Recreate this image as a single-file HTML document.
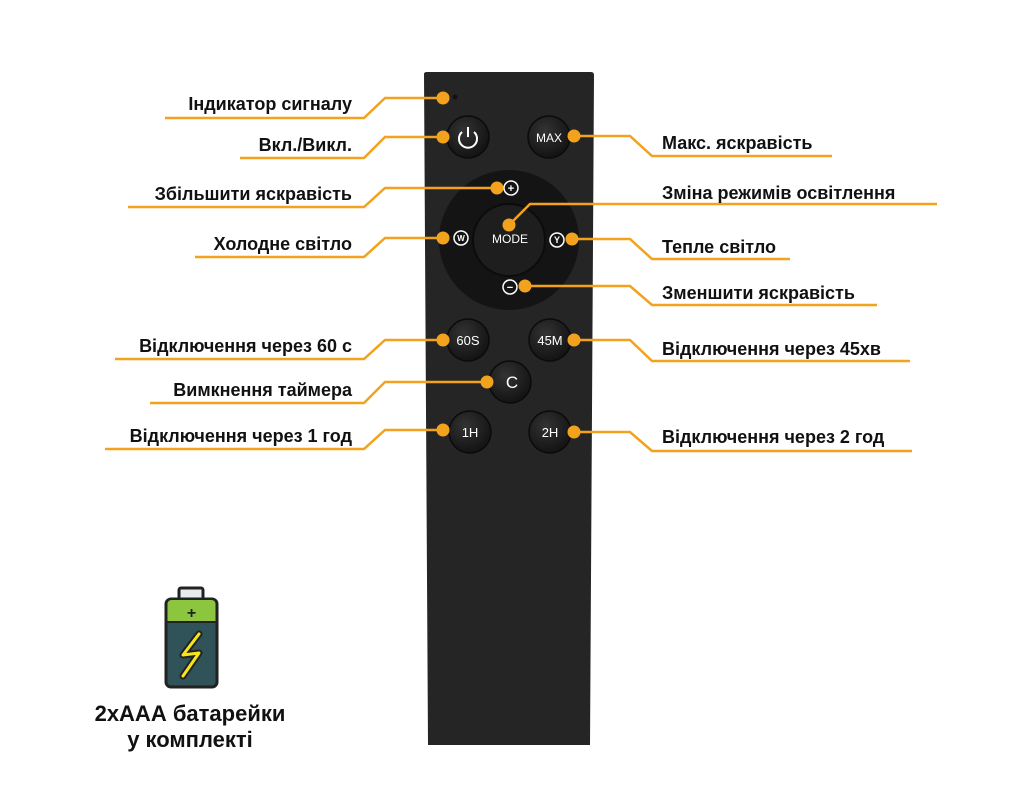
<!DOCTYPE html>
<html><head><meta charset="utf-8"><style>
html,body{margin:0;padding:0;background:#fff;}
svg{display:block;}
text{font-family:"Liberation Sans","DejaVu Sans",sans-serif;}
.l{font-size:18px;font-weight:bold;fill:#111;}
.b{fill:#fff;font-size:13px;text-anchor:middle;}
</style></head><body>
<svg width="1024" height="800" viewBox="0 0 1024 800" xmlns="http://www.w3.org/2000/svg">
<defs>
<radialGradient id="bg" cx="40%" cy="35%" r="70%"><stop offset="0" stop-color="#333"/><stop offset="1" stop-color="#111"/></radialGradient>
</defs>
<path d="M424 74 Q424 72 427 72 L591 72 Q594 72 594 75 L590 745 L428 745 Z" fill="#252525"/>
<circle cx="455" cy="97" r="2.5" fill="#111"/>
<circle cx="509" cy="240" r="70" fill="#141414"/>
<circle cx="509" cy="240" r="36" fill="#1e1e1e" stroke="#0c0c0c" stroke-width="2"/>
<text x="510" y="243" class="b" style="font-size:12px">MODE</text>
<g fill="none" stroke="#fff" stroke-width="1.5">
<circle cx="511" cy="188" r="7"/><circle cx="461" cy="238" r="7"/><circle cx="557" cy="240" r="7"/><circle cx="510" cy="287" r="7"/>
</g>
<text x="511" y="192" class="b" style="font-size:11px;font-weight:bold">+</text>
<text x="461" y="241" class="b" style="font-size:8px;font-weight:bold">W</text>
<text x="557" y="243" class="b" style="font-size:9px;font-weight:bold">Y</text>
<text x="510" y="291" class="b" style="font-size:11px;font-weight:bold">−</text>
<g fill="url(#bg)" stroke="#0b0b0b" stroke-width="1.5">
<circle cx="468" cy="137" r="21"/><circle cx="549" cy="137" r="21"/>
<circle cx="468" cy="340" r="21"/><circle cx="550" cy="340" r="21"/>
<circle cx="510" cy="382" r="21"/>
<circle cx="470" cy="432" r="21"/><circle cx="550" cy="432" r="21"/>
</g>
<path d="M462 132 A9 9 0 1 0 474 132" fill="none" stroke="#fff" stroke-width="2"/>
<line x1="468" y1="127" x2="468" y2="137" stroke="#fff" stroke-width="2"/>
<text x="549" y="142" class="b" style="font-size:12px">MAX</text>
<text x="468" y="345" class="b">60S</text>
<text x="550" y="345" class="b">45M</text>
<text x="512" y="388" class="b" style="font-size:17px">C</text>
<text x="470" y="437" class="b">1H</text>
<text x="550" y="437" class="b">2H</text>
<g fill="none" stroke="#f2a21c" stroke-width="2.5">
<polyline points="165,118 364,118 385,98 443,98"/>
<polyline points="240,158 364,158 385,137 443,137"/>
<polyline points="128,207 364,207 385,188 497,188"/>
<polyline points="195,257 364,257 385,238 443,238"/>
<polyline points="115,359 364,359 385,340 443,340"/>
<polyline points="150,403 364,403 385,382 487,382"/>
<polyline points="105,449 364,449 385,430 443,430"/>
<polyline points="574,136 630,136 652,156 832,156"/>
<polyline points="509,225 530,204 937,204"/>
<polyline points="572,239 630,239 652,259 790,259"/>
<polyline points="525,286 630,286 652,305 877,305"/>
<polyline points="574,340 630,340 652,361 910,361"/>
<polyline points="574,432 630,432 652,451 912,451"/>
</g>
<g fill="#f2a21c">
<circle cx="443" cy="98" r="6.5"/><circle cx="443" cy="137" r="6.5"/><circle cx="497" cy="188" r="6.5"/>
<circle cx="443" cy="238" r="6.5"/><circle cx="443" cy="340" r="6.5"/><circle cx="487" cy="382" r="6.5"/>
<circle cx="443" cy="430" r="6.5"/><circle cx="574" cy="136" r="6.5"/><circle cx="509" cy="225" r="6.5"/>
<circle cx="572" cy="239" r="6.5"/><circle cx="525" cy="286" r="6.5"/><circle cx="574" cy="340" r="6.5"/>
<circle cx="574" cy="432" r="6.5"/>
</g>
<g class="l" text-anchor="end">
<text x="352" y="110">Індикатор сигналу</text>
<text x="352" y="151">Вкл./Викл.</text>
<text x="352" y="200">Збільшити яскравість</text>
<text x="352" y="250">Холодне світло</text>
<text x="352" y="352">Відключення через 60 с</text>
<text x="352" y="396">Вимкнення таймера</text>
<text x="352" y="442">Відключення через 1 год</text>
</g>
<g class="l">
<text x="662" y="149">Макс. яскравість</text>
<text x="662" y="199">Зміна режимів освітлення</text>
<text x="662" y="253">Тепле світло</text>
<text x="662" y="299">Зменшити яскравість</text>
<text x="662" y="355">Відключення через 45хв</text>
<text x="662" y="443">Відключення через 2 год</text>
</g>
<rect x="179" y="588" width="24" height="12" rx="2" fill="#e6ecef" stroke="#222" stroke-width="3"/>
<rect x="166" y="599" width="51" height="88" rx="5" fill="#2f5358" stroke="#222" stroke-width="3"/>
<path d="M167.5 604 a4 4 0 0 1 4 -4 h40 a4 4 0 0 1 4 4 v18 h-48 z" fill="#8cc63f"/>
<line x1="167" y1="622" x2="216" y2="622" stroke="#222" stroke-width="2"/>
<text x="191.5" y="618" text-anchor="middle" style="font-size:16px;font-weight:bold;fill:#222">+</text>
<polyline points="199,634 183,655 199,653 183,676" fill="none" stroke="#222" stroke-width="7" stroke-linejoin="round" stroke-linecap="round"/>
<polyline points="199,634 183,655 199,653 183,676" fill="none" stroke="#f5e61c" stroke-width="3" stroke-linejoin="round" stroke-linecap="round"/>
<text x="190" y="721" text-anchor="middle" style="font-size:22px;font-weight:bold;fill:#111">2хААА батарейки</text>
<text x="190" y="747" text-anchor="middle" style="font-size:22px;font-weight:bold;fill:#111">у комплекті</text>
</svg>
</body></html>
